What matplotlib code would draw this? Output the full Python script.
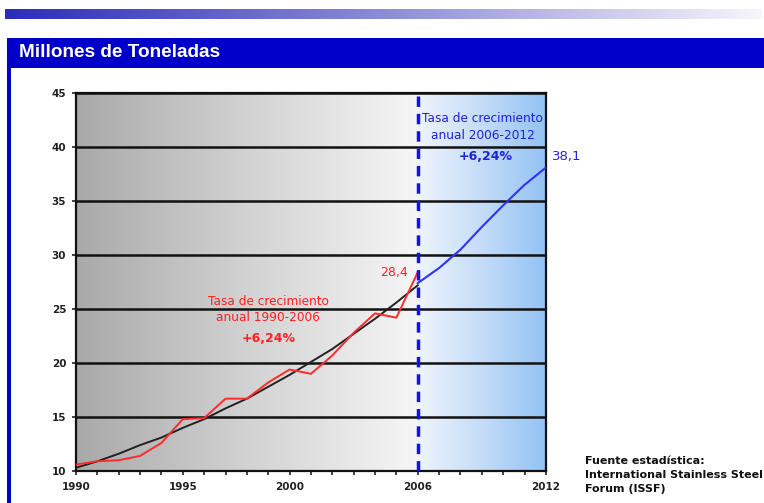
import numpy as np
import matplotlib.pyplot as plt
from matplotlib.patches import Rectangle
from matplotlib.colors import LinearSegmentedColormap

# producción histórica (millones de toneladas)
years_hist = [1990, 1991, 1992, 1993, 1994, 1995, 1996, 1997, 1998,
              1999, 2000, 2001, 2002, 2003, 2004, 2005, 2006]
prod_hist = [10.6, 10.9, 11.0, 11.4, 12.6, 14.8, 14.9, 16.7, 16.7,
             18.2, 19.4, 19.0, 20.7, 22.8, 24.6, 24.2, 28.4]

# tendencia 1990-2006
trend_vals = [10.3, 10.9, 11.6, 12.4, 13.1, 14.0, 14.8, 15.8, 16.7,
              17.8, 18.9, 20.1, 21.3, 22.7, 24.1, 25.6, 27.2]

# previsión 2006-2012
years_fc = [2006, 2007, 2008, 2009, 2010, 2011, 2012]
prod_fc = [27.4, 28.8, 30.5, 32.6, 34.6, 36.5, 38.1]

major_years = [1990, 1995, 2000, 2006, 2012]
y_ticks = [10, 15, 20, 25, 30, 35, 40, 45]

plt.rcParams['font.family'] = ['DejaVu Sans']

fig = plt.figure(figsize=(7.64, 5.03), dpi=100)

# cabecera de la diapositiva
bar_grad = np.linspace(0, 1, 256).reshape(1, -1)
bar_cmap = LinearSegmentedColormap.from_list('bar', ['#2c2cbc', '#8c8cd6', '#f6f6fc'])
bar_ax = fig.add_axes([0.007, 0.962, 0.99, 0.021])
bar_ax.imshow(bar_grad, aspect='auto', cmap=bar_cmap)
bar_ax.axis('off')

fig.patches.append(Rectangle((0.009, 0.865), 0.991, 0.06, transform=fig.transFigure,
                             facecolor='#0000c8', edgecolor='none'))
fig.patches.append(Rectangle((0.009, 0.0), 0.005, 0.87, transform=fig.transFigure,
                             facecolor='#0000c8', edgecolor='none'))
fig.text(0.025, 0.895, 'Millones de Toneladas', color='white', fontsize=13.7,
         fontweight='bold', va='center', ha='left', family='Liberation Sans')

ax = fig.add_axes([0.0995, 0.0636, 0.615, 0.7514])

# fondos degradados
grey = LinearSegmentedColormap.from_list('grey', ['#a9a9a9', '#d2d2d2', '#f6f6f6'])
blue = LinearSegmentedColormap.from_list('blue', ['#eef4fd', '#c4dcf8', '#92c2f4'])
grad = np.linspace(0, 1, 256).reshape(1, -1)
ax.imshow(grad, aspect='auto', cmap=grey, extent=(1990, 2006, 10, 45), zorder=0)
ax.imshow(grad, aspect='auto', cmap=blue, extent=(2006, 2012, 10, 45), zorder=0)

for v in y_ticks[1:]:
    ax.axhline(v, color='#111111', lw=1.8, zorder=1)

ax.plot(years_hist, trend_vals, color='#222222', lw=1.4, zorder=3)
ax.plot(years_hist, prod_hist, color='#ff2a2a', lw=1.4, zorder=4)
ax.plot(years_fc, prod_fc, color='#3030ff', lw=1.5, zorder=4)
ax.axvline(2006, color='#1010ff', lw=2.5, ls=(0, (3, 2)), zorder=5)

ax.set_xlim(1990, 2012)
ax.set_ylim(10, 45)
ax.set_yticks(y_ticks)
ax.set_xticks(major_years)
ax.set_xticks(range(1990, 2013), minor=True)
ax.tick_params(axis='both', which='both', direction='out', length=3, width=1.2,
               labelsize=7.5, colors='#222222')
ax.tick_params(axis='x', pad=5)
ax.tick_params(axis='y', pad=4)
for lab in ax.get_xticklabels() + ax.get_yticklabels():
    lab.set_fontweight('bold')
for s in ax.spines.values():
    s.set_linewidth(1.6)
    s.set_color('#111111')

# anotaciones
red = '#ff2020'
ax.text(1999.0, 25.7, 'Tasa de crecimiento', color=red, fontsize=8.7,
        ha='center', va='center')
ax.text(1999.0, 24.2, 'anual 1990-2006', color=red, fontsize=8.7,
        ha='center', va='center')
ax.text(1999.0, 22.3, '+6,24%', color=red, fontsize=9, fontweight='bold',
        ha='center', va='center')
ax.text(2004.9, 28.4, '28,4', color=red, fontsize=9, ha='center', va='center')

bl = '#2020e0'
ax.text(2009.05, 42.6, 'Tasa de crecimiento', color=bl, fontsize=8.7,
        ha='center', va='center')
ax.text(2009.05, 41.1, 'anual 2006-2012', color=bl, fontsize=8.7,
        ha='center', va='center')
ax.text(2009.2, 39.1, '+6,24%', color=bl, fontsize=9, fontweight='bold',
        ha='center', va='center')
ax.text(2012.27, 39.1, '38,1', color=bl, fontsize=9.5, ha='left', va='center',
        clip_on=False)

# fuente: el texto llega hasta el borde derecho de la diapositiva
fig.text(0.7657, 0.0557, 'Fuente estadística:\nInternational Stainless Steel\nForum (ISSF)',
         fontsize=8.0, fontweight='bold', color='#111111', ha='left', va='center',
         linespacing=1.45)

fig.savefig('out.png', dpi=100)
